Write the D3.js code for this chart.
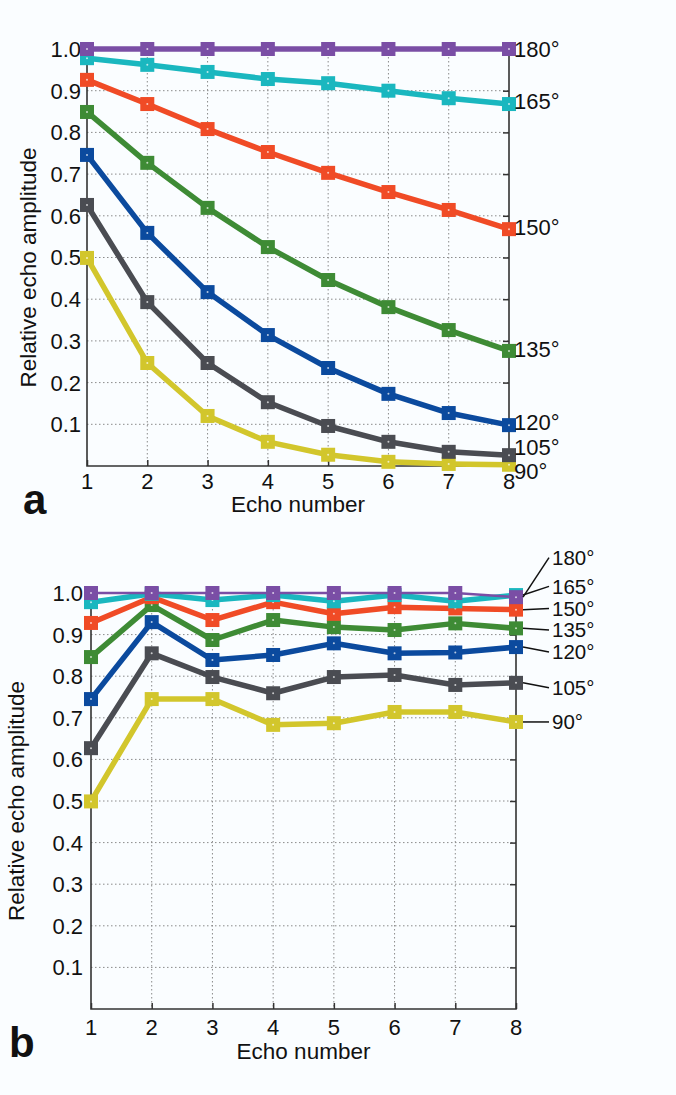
<!doctype html>
<html lang="en">
<head>
<meta charset="utf-8">
<title>Relative echo amplitude</title>
<style>
  body { margin: 0; background: #fafdff; }
  svg { display: block; font-family: "Liberation Sans", Arial, Helvetica, sans-serif; }
  .grid line { stroke: #8a8a8a; stroke-width: 1; stroke-dasharray: 1.5 2.5; }
  .frame { stroke: #333; stroke-width: 1.6; fill: none; }
  .tick-label { font-size: 22px; fill: #111; }
  .title { font-size: 22.5px; fill: #111; }
  .series-label { font-size: 22px; fill: #111; }
  .series-label.b { font-size: 20.5px; }
  .panel-letter { font-size: 42px; font-weight: bold; fill: #111; }
  .leader { stroke: #111; stroke-width: 1.5; }
</style>
</head>
<body>
<svg id="chart" width="676" height="1095"></svg>
<script src="https://d3js.org/d3.v7.min.js"></script>
<script>
// --- data ---
const echoes = [1, 2, 3, 4, 5, 6, 7, 8];
const angles = ["90°", "105°", "120°", "135°", "150°", "165°", "180°"];
const yTicks = [0.1, 0.2, 0.3, 0.4, 0.5, 0.6, 0.7, 0.8, 0.9, 1.0];

// panel a: raw echo amplitudes
const a90  = [0.499, 0.247, 0.120, 0.058, 0.027, 0.010, 0.005, 0.003];
const a105 = [0.626, 0.393, 0.247, 0.153, 0.096, 0.058, 0.034, 0.026];
const a120 = [0.746, 0.559, 0.417, 0.314, 0.235, 0.173, 0.127, 0.098];
const a135 = [0.849, 0.727, 0.619, 0.525, 0.446, 0.381, 0.326, 0.276];
const a150 = [0.926, 0.868, 0.808, 0.753, 0.703, 0.657, 0.614, 0.568];
const a165 = [0.978, 0.962, 0.945, 0.928, 0.918, 0.900, 0.882, 0.868];
const a180 = [1.0, 1.0, 1.0, 1.0, 1.0, 1.0, 1.0, 1.0];

// panel b: echo-to-echo ratios
const b90  = [0.499, 0.745, 0.745, 0.683, 0.687, 0.714, 0.714, 0.690];
const b105 = [0.627, 0.855, 0.798, 0.759, 0.798, 0.803, 0.779, 0.784];
const b120 = [0.745, 0.930, 0.839, 0.851, 0.879, 0.855, 0.857, 0.870];
const b135 = [0.846, 0.971, 0.887, 0.935, 0.918, 0.911, 0.927, 0.915];
const b150 = [0.928, 0.990, 0.935, 0.978, 0.950, 0.966, 0.963, 0.960];
const b165 = [0.978, 0.998, 0.983, 0.995, 0.980, 0.995, 0.980, 0.995];
const b180 = [1.0, 1.0, 1.0, 1.0, 1.0, 1.0, 1.0, 0.99];

// --- styling ---
const colors = ["#d2c62c", "#4a4c52", "#0b4a9e", "#3e8b35", "#f04b26", "#1ab7bf", "#7a4ea5"];

const svg = d3.select("#chart");

function drawPanel(o) {
  const x = d3.scaleLinear().domain([1, 8]).range([o.left, o.right]);
  const y = d3.scaleLinear().domain([0, 1]).range([o.bottom, o.top]);
  const g = svg.append("g");

  // dotted grid
  const grid = g.append("g").attr("class", "grid");
  grid.selectAll(".h").data(yTicks.slice(0, -1)).join("line")
    .attr("x1", o.left).attr("x2", o.right)
    .attr("y1", d => y(d)).attr("y2", d => y(d));
  grid.selectAll(".v").data(echoes.slice(1, -1)).join("line")
    .attr("x1", d => x(d)).attr("x2", d => x(d))
    .attr("y1", o.top).attr("y2", o.bottom);

  // axes (ticks pointing inward)
  g.append("g").attr("transform", `translate(0,${o.bottom})`)
    .call(d3.axisTop(x).tickValues(echoes).tickSize(6).tickFormat(""))
    .call(s => s.select(".domain").remove())
    .call(s => s.selectAll("line").attr("stroke", "#333").attr("stroke-width", 1.5));
  g.append("g").attr("transform", `translate(${o.right},0)`)
    .call(d3.axisLeft(y).tickValues(yTicks).tickSize(6).tickFormat(""))
    .call(s => s.select(".domain").remove())
    .call(s => s.selectAll("line").attr("stroke", "#333").attr("stroke-width", 1.5));
  g.append("path").attr("class", "frame")
    .attr("d", `M${o.left},${o.top}V${o.bottom}H${o.right}V${o.top}`);

  // tick labels
  g.selectAll(".yl").data(yTicks).join("text")
    .attr("class", "tick-label")
    .attr("x", o.left - o.ylGap).attr("y", d => y(d)).attr("dy", "0.36em")
    .attr("text-anchor", "end")
    .text(d3.format(".1f"));
  g.selectAll(".xl").data(echoes).join("text")
    .attr("class", "tick-label")
    .attr("x", d => x(d)).attr("y", o.xlBase)
    .attr("text-anchor", "middle")
    .text(d => d);

  // titles
  g.append("text").attr("class", "title")
    .attr("transform", `translate(${o.ytX},${(o.top + o.bottom) / 2 + o.ytShift}) rotate(-90)`)
    .attr("text-anchor", "middle").attr("dy", "0.35em")
    .text("Relative echo amplitude");
  g.append("text").attr("class", "title")
    .attr("x", (o.left + o.right) / 2).attr("y", o.xtBase)
    .attr("text-anchor", "middle")
    .text("Echo number");
  g.append("text").attr("class", "panel-letter")
    .attr("x", o.letterX).attr("y", o.letterBase)
    .text(o.letter);

  // series
  const line = d3.line().x((d, i) => x(echoes[i])).y(d => y(d));
  o.series.forEach((vals, k) => {
    const s = g.append("g");
    s.append("path").attr("d", line(vals))
      .attr("fill", "none").attr("stroke", colors[k])
      .attr("stroke-width", o.widths ? o.widths[k] : 5.5)
      .attr("stroke-linejoin", "round");
    s.selectAll("rect").data(vals).join("rect")
      .attr("x", (d, i) => x(echoes[i]) - 7).attr("y", d => y(d) - 7)
      .attr("width", 14).attr("height", 14)
      .attr("fill", colors[k]);
    s.selectAll("circle").data(vals).join("circle")
      .attr("cx", (d, i) => x(echoes[i])).attr("cy", d => y(d))
      .attr("r", 1).attr("fill", "#fff").attr("opacity", 0.7);
  });

  return { x, y, g };
}

// panel a
const pa = drawPanel({
  left: 87, right: 509, top: 49, bottom: 466,
  ylGap: 6, xlBase: 489, xtBase: 512, ytX: 28, ytShift: 10,
  letter: "a", letterX: 23, letterBase: 514,
  series: [a90, a105, a120, a135, a150, a165, a180]
});
// label positions in value units (nudged where they would collide)
const aLabelAt = [-0.012, 0.046, 0.106, 0.28, 0.573, 0.875, 1.0];
pa.g.selectAll(".lab").data(angles).join("text")
  .attr("class", "series-label")
  .attr("x", 514).attr("y", (d, i) => pa.y(aLabelAt[i])).attr("dy", "0.36em")
  .text(d => d);

// panel b
const bSeries = [b90, b105, b120, b135, b150, b165, b180];
const pb = drawPanel({
  left: 91, right: 516, top: 593, bottom: 1009,
  ylGap: 8, xlBase: 1035, xtBase: 1059, ytX: 16, ytShift: 0,
  letter: "b", letterX: 9, letterBase: 1057,
  widths: [5.5, 5.5, 5.5, 5.5, 5.5, 5.5, 2.5],
  series: bSeries
});
const bLabelAt = [0.69, 0.772, 0.858, 0.911, 0.963, 1.016, 1.085];
pb.g.selectAll(".ld").data(angles).join("line")
  .attr("class", "leader")
  .attr("x1", 523).attr("y1", (d, i) => pb.y(bSeries[i][7]))
  .attr("x2", 549).attr("y2", (d, i) => pb.y(bLabelAt[i]));
pb.g.selectAll(".lab").data(angles).join("text")
  .attr("class", "series-label b")
  .attr("x", 552).attr("y", (d, i) => pb.y(bLabelAt[i])).attr("dy", "0.36em")
  .text(d => d);
</script>
</body>
</html>
